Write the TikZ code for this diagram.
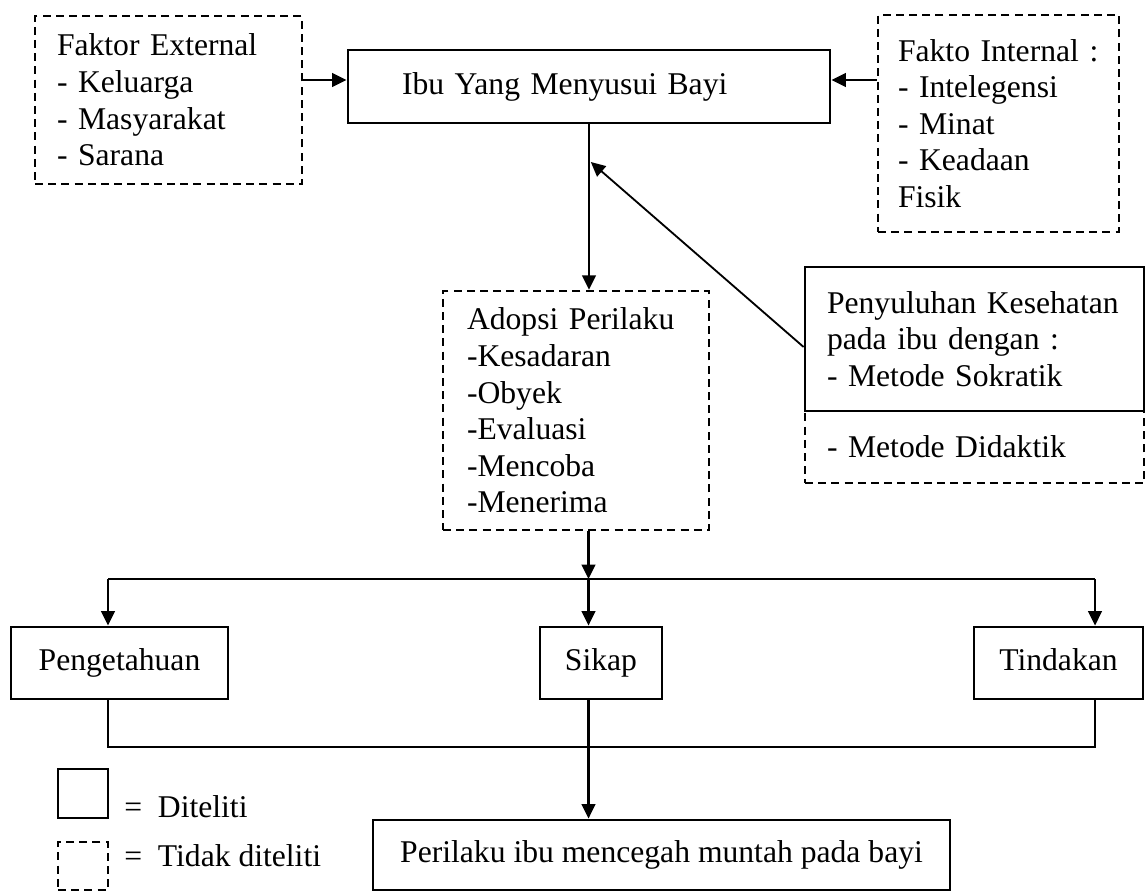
\documentclass[tikz,border=0pt]{standalone}
\usepackage{fontspec}
\setmainfont{Liberation Serif}
\usepackage{tikz}
\usetikzlibrary{arrows.meta, positioning, calc}
\tikzset{
    solidbox/.style={draw, line width=2pt, inner sep=0pt, align=left},
    dashbox/.style={draw, line width=1.8pt, dash pattern=on 0.2cm off 0.13cm, inner sep=0pt, align=left},
    rowbox/.style={solidbox, align=center, text height=15pt, text depth=5pt},
    conn/.style={line width=1.6pt},
    flow/.style={conn, -{Triangle[length=3.6mm, width=3.4mm]}},
}

\begin{document}
\begin{tikzpicture}[font=\fontsize{22.5}{26}\selectfont]
    \useasboundingbox (0,0) rectangle (28.675,22.3);
    \node[dashbox, minimum width=6.675cm, minimum height=4.2cm, text width=5.575cm] (ext) at (4.2125,19.8) {Faktor External\\- Keluarga\\- Masyarakat\\- Sarana};
    \node[solidbox, minimum width=12.05cm, minimum height=1.825cm, text width=9.35cm] (ibu) at (14.725,20.1375) {Ibu Yang Menyusui Bayi};
    \node[dashbox, minimum width=6.025cm, minimum height=5.425cm, text width=5.025cm] (int) at (24.9625,19.2125) {Fakto~Internal~:\\- Intelegensi\\- Minat\\- Keadaan\\Fisik};
    \node[dashbox, minimum width=6.65cm, minimum height=5.975cm, text width=5.45cm] (adopsi) at (14.4,12.0375) {Adopsi Perilaku\\-Kesadaran\\-Obyek\\-Evaluasi\\-Mencoba\\-Menerima};
    \node[dashbox, minimum width=8.475cm, minimum height=1.8cm, text width=7.375cm] (didaktik) at (24.3625,11.125) {- Metode Didaktik};
    \node[solidbox, fill=white, minimum width=8.475cm, minimum height=3.6cm, text width=7.375cm] (sokratik) at (24.3625,13.825) {Penyuluhan~Kesehatan\\pada ibu dengan :\\- Metode Sokratik};

    \node[rowbox, minimum width=5.425cm, minimum height=1.8cm] (peng) at (2.9875,5.725) {Pengetahuan};
    \node[rowbox, minimum width=3.05cm, minimum height=1.8cm] (sikap) at (15.025,5.725) {Sikap};
    \node[rowbox, minimum width=4.225cm, minimum height=1.8cm] (tind) at (26.4625,5.725) {Tindakan};
    \node[rowbox, minimum width=14.425cm, minimum height=1.75cm] (peri) at (16.5375,0.925) {Perilaku ibu mencegah muntah pada bayi};

    \node[solidbox, minimum width=1.25cm, minimum height=1.225cm] (keysolid) at (2.075,2.4625) {};
    \node[dashbox, minimum width=1.25cm, minimum height=1.2cm] (keydash) at (2.075,0.65) {};
    \node[right, inner sep=0pt] (keysolidT) at (3.1,2.125) {=~~Diteliti};
    \node[right, inner sep=0pt] (keydashT) at (3.1,0.9) {=~~Tidak diteliti};

    \coordinate (hit) at (14.77,18.25);
    \coordinate (split) at (14.7125,7.825);
    \coordinate (splitL) at (2.7,7.825);
    \coordinate (splitR) at (27.375,7.825);
    \coordinate (joinL) at (2.7,3.625);
    \coordinate (joinR) at (27.375,3.625);

    \draw[flow] (ext.east |- 0,20.3) -- (ibu.west |- 0,20.3);
    \draw[flow] (int.west |- 0,20.3) -- (ibu.east |- 0,20.3);
    \draw[flow] (ibu.south) -- (ibu.south |- adopsi.north);
    \draw[flow, line width=1.3pt] ([yshift=-0.2cm]sokratik.west) -- (hit);
    \draw[flow] (adopsi.south -| split) -- (split);
    \draw[conn] (splitL) -- (splitR);
    \draw[flow] (split) -- (sikap.north -| split);
    \draw[flow] (splitL) -- (peng.north -| splitL);
    \draw[flow] (splitR) -- (tind.north -| splitR);
    \draw[conn] (peng.south -| joinL) -- (joinL) -- (joinR) -- (tind.south -| joinR);
    \draw[flow] (sikap.south -| split) -- (peri.north -| split);
\end{tikzpicture}
\end{document}
